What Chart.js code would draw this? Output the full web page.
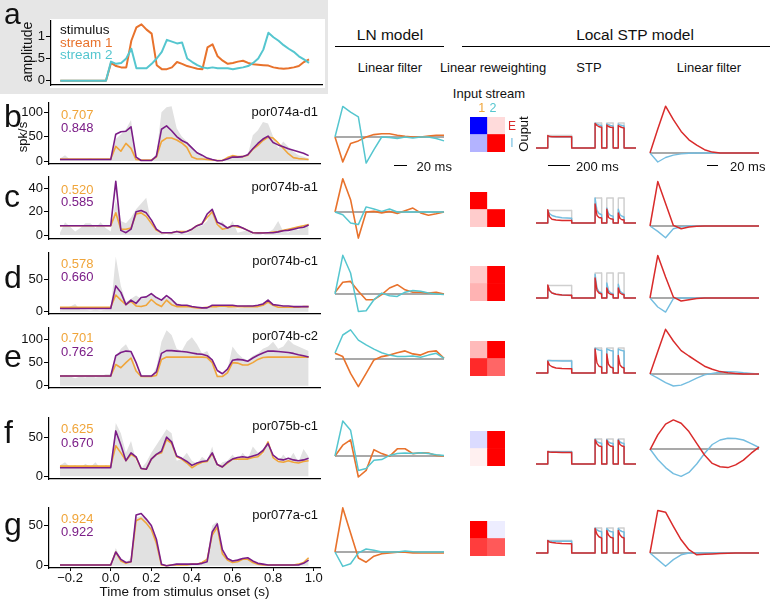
<!DOCTYPE html>
<html lang="en">
<head>
<meta charset="UTF-8">
<title>LN vs local STP model fits</title>
<script src="https://cdn.jsdelivr.net/npm/chart.js@4"></script>
<style>
  body { margin: 0; background: #fff; font-family: "Liberation Sans", Arial, sans-serif; }
  #fig { position: relative; width: 772px; height: 601px; overflow: hidden; }
  #fig canvas { position: absolute; }
  .t { position: absolute; white-space: nowrap; line-height: 1; }
  .box { position: absolute; }
</style>
</head>
<body>
<div id="fig"></div>
<script>
// ---- PSTH time bins (s) ----
const tBins = [-0.25,-0.225,-0.2,-0.175,-0.15,-0.125,-0.1,-0.075,-0.05,-0.025,0,0.025,0.05,0.075,0.1,0.125,0.15,0.175,0.2,0.225,0.25,0.275,0.3,0.325,0.35,0.375,0.4,0.425,0.45,0.475,0.5,0.525,0.55,0.575,0.6,0.625,0.65,0.675,0.7,0.725,0.75,0.775,0.8,0.825,0.85,0.875,0.9,0.925,0.95,0.975];
const xTicks = [-0.2, 0, 0.2, 0.4, 0.6, 0.8, 1.0];

// ---- panel a: stimulus envelopes ----
const stream1 = [0,0,0,0,0,0,0,0,0,0, 0.4,0.33,0.3,0.3,0.9,1.2,1.27,1.15,1.06,0.35, 0.26,0.26,0.3,0.42,0.38,0.33,0.3,0.27,0.26,0.75, 0.82,0.55,0.45,0.38,0.4,0.43,0.45,0.4,0.37,0.36, 0.35,0.34,0.3,0.28,0.27,0.28,0.3,0.33,0.42,0.48];
const stream2 = [0,0,0,0,0,0,0,0,0,0, 0.43,0.38,0.4,0.5,0.72,0.28,0.28,0.28,0.38,0.5, 0.65,0.92,0.88,0.84,0.86,0.5,0.42,0.35,0.3,0.28, 0.3,0.28,0.28,0.28,0.26,0.28,0.3,0.33,0.4,0.5, 0.7,1.08,0.98,0.9,0.8,0.72,0.65,0.55,0.48,0.4];

// ---- PSTHs: response (gray), LN prediction (gold), STP prediction (purple) ----
const resp_b = [5,12,3,2,2,3,5,2,2,3, 4,45,55,65,84,5,1,0,1,15, 100,110,112,67,50,40,29,19,12,5, 2,0,2,6,10,8,8,12,53,63, 80,77,50,26,40,29,19,12,9,5];
const lnPred_b = [4,4,4,4,4,4,4,4,4,4, 4,30,20,36,26,3,2,2,2,8, 40,47,47,43,37,28,8,4,4,3, 2,1,1,7,11,9,9,12,24,32, 42,49,47,37,26,15,7,5,4,3];
const stpPred_b = [3,3,3,3,3,3,3,3,3,3, 3,55,60,61,70,8,1,1,1,10, 65,72,62,50,42,37,27,17,12,6, 3,0.5,1,4,8,8,9,13,25,36, 45,51,38,33,29,25,22,19,16,11];

const resp_c = [2,11,7,3,6,10,10,6,11,6, 3,30,12,10,15,22,27,32,10,3, 1,0,2,1,2,1,4,7,8,12, 23,8,12,5,12,2,3,4,0,2, 0,2,5,12,3,2,6,4,7,10];
const lnPred_c = [8,8,8,8,8,8,8,8,8,8, 8,19,5,5,6,18,19,16,10,4, 2,2,2,3,3,3,5,8,10,15, 20,9,5,6,8,7,6,4,2,2, 2,2,2.5,3,4,5,6,7,8,9];
const stpPred_c = [8,8,8,8,8,8,8,8,8,8, 8,46,4,2,5,20,21,19,13,5, 2,2,2,3,2,3,5,8,9.5,18, 22,11,9,6,8,8,6,4,2,1.7, 1.7,2,2,2.7,3.6,4,5,6,6.6,8.6];

const resp_d = [3,5,8,12,3,3,2,3,2,3, 3,85,40,15,20,25,20,22,30,20, 18,22,20,14,10,8,6,6,4,5, 8,7,9,8,7,5,6,10,9,8, 12,20,10,9,6,7,6,8,7,7];
const lnPred_d = [7,7,7,7,7,7,7,7,7,7, 7,26,18,11,16,9,8,10,19,12, 8,18,11,8,8,8,7,6,6,7, 8,8,9,8,8,8,8,8,8,8, 10,15,10,7,7,7,7,7,8,8];
const stpPred_d = [5,5,5,5,5,5,5,5,5,5, 5,40,30,11,18,13,22,23,28,22, 18,25,19,11,10,10,8,7,6,6, 10,10,10,10,10,9,9,9,9,10, 12,18,11,10,9,9,8,8,8,8];

const resp_e = [20,23,20,16,20,18,22,18,20,25, 25,60,80,90,70,40,18,20,20,40, 95,120,110,80,75,95,105,90,70,75, 55,25,22,35,85,70,60,55,65,70, 80,85,95,80,85,100,90,85,80,75];
const lnPred_e = [21,21,21,21,21,21,21,21,21,21, 21,46,39,50,60,32,20,20,20,22, 57,62,62,62,62,62,62,62,62,61, 50,20,20,28,50,49,45,45,50,57, 61,62,62,62,62,62,62,62,62,62];
const stpPred_e = [21,21,21,21,21,21,21,21,21,21, 21,65,72,75,74,50,21,21,21,30, 70,76,76,75,74,73,71,69,68,65, 56,33,26,36,55,57,56,53,60,66, 71,75,75,74,73,72,70,67,65,62];

const resp_f = [14,18,12,14,10,16,12,18,10,14, 12,68,55,30,45,20,10,18,30,40, 50,60,55,20,22,30,20,16,25,20, 38,12,18,20,28,20,30,22,38,30, 28,45,25,18,28,20,30,18,35,25];
const lnPred_f = [13,13,13,13,13,13,13,13,13,13, 13,39,30,20,28,24,10,9,22,28, 30,47,42,25,22,17,11,15,18,19, 29,15,12,17,22,22,22,22,24,25, 31,44,24,19,18,20,18,17,19,20];
const stpPred_f = [11,11,11,11,11,11,11,11,11,11, 11,58,40,20,30,25,10,9,22,28, 32,50,44,26,23,19,14,17,19,20, 30,15,12,18,22,24,25,24,26,28, 33,42,27,22,21,23,21,20,21,23];

const resp_g = [0,0,0,0,0,0,0,0,0,0, 2,22,8,3,10,60,62,58,48,30, 2,1,2,3,2,2,3,2,4,10, 50,55,18,8,6,8,10,10,6,3, 2,1,1,1,1,1,1,2,4,8];
const lnPred_g = [1,1,1,1,1,1,1,1,1,1, 1,17,6,3,5,56,59,53,45,28, 1,0,1,1,1,1,2,2,4,8, 38,48,15,7,4,5,8,8,4,2, 1,1,1,1,1,1,1,2,4,10];
const stpPred_g = [1,1,1,1,1,1,1,1,1,1, 1,17,8,4,5,63,65,58,50,33, 2,0,1,2,2,2,2,2,3,5, 42,52,20,9,6,7,9,10,6,3, 2,1,1,1,1,1,1,1,3,7];

const cells = ['por074a-d1','por074b-a1','por074b-c1','por074b-c2','por075b-c1','por077a-c1'];
const corrLN = ['0.707','0.520','0.578','0.701','0.625','0.924'];
const corrSTP = ['0.848','0.585','0.660','0.762','0.670','0.922'];

// ---- filters (lag index) ----
const lag = [0,1,2,3,4,5,6,7,8,9,10,11,12,13,14];
const zeroLine = [0,0,0,0,0,0,0,0,0,0,0,0,0,0,0];

const lnFilt1_b = [0,-0.83,-0.22,-0.13,0,0.08,0.11,0.11,0.06,0.02,0,0,0.03,0.06,0.06];
const lnFilt2_b = [0,1.02,0.83,0.67,-0.87,-0.42,0,-0.02,-0.05,0,-0.03,0,0,-0.05,-0.13];
const lnFilt1_c = [0,1.11,0.41,-0.87,0,0.02,-0.03,0.02,-0.05,0.04,0.13,-0.03,-0.11,-0.06,0];
const lnFilt2_c = [0,-0.09,-0.37,-0.42,0.17,0.1,0.02,0.1,0,0,0,0,0,0,0];
const lnFilt1_d = [0.05,0.39,0.42,0.09,-0.19,-0.19,-0.02,0.2,0.31,0.14,0.06,0.06,0.03,0.06,0];
const lnFilt2_d = [0,1.29,0.7,-0.58,-0.56,-0.19,0.03,-0.06,-0.08,0.06,0.12,0.09,0.03,0,-0.02];
const lnFilt1_e = [0.19,0.08,-0.48,-0.92,-0.48,-0.03,0.08,0.13,0.21,0.27,0.17,0.13,0.24,0.27,0.02];
const lnFilt2_e = [0.2,0.8,0.97,0.63,0.47,0.33,0.21,0.13,0.08,0.08,0.1,0.06,0.13,0.19,0.02];
const lnFilt1_f = [0,0.36,0.54,-0.7,-0.48,0.21,0.08,-0.01,0.24,0.24,0.08,0.11,0.1,0.02,0];
const lnFilt2_f = [0,1.17,0.86,-0.48,-0.42,-0.14,-0.12,0.02,0.08,0.1,0.08,0.11,0.08,0.04,0.02];
const lnFilt1_g = [0,1.47,0.63,-0.2,-0.34,-0.14,-0.06,-0.03,-0.01,-0.01,-0.03,-0.03,-0.03,-0.03,-0.03];
const lnFilt2_g = [0,-0.48,-0.39,-0.03,0.1,0.06,0,0,0,0.03,0.01,0,0,0,0];

// ---- linear reweighting (rows E, I ; columns input stream 1, 2) ----
const inputStreams = ['1', '2'];
const wE_b = [-1, 0.14], wI_b = [-0.3, 1];
const wE_c = [1, 0],     wI_c = [0.2, 1];
const wE_d = [0.21, 1],  wI_d = [0.3, 1];
const wE_e = [0.27, 1],  wI_e = [0.84, 0.6];
const wE_f = [-0.14, 1], wI_f = [0.06, 1];
const wE_g = [1, -0.07], wI_g = [0.76, 0.65];

// ---- STP response to test input (ms) ----
const stpTime = [0,117,118,135,160,200,260,356,357,590,591,610,630,656,657,707,708,725,745,771,772,822,823,840,860,880,881,1000];
const stpInput = [0,0,0.5,0.5,0.5,0.5,0.5,0.5,0,0,1,1,1,1,0,0,1,1,1,1,0,0,1,1,1,1,0,0];
const stpE_b = [0,0,0.5,0.46,0.45,0.45,0.45,0.45,0,0,0.98,0.9,0.85,0.83,0,0,0.92,0.86,0.83,0.82,0,0,0.9,0.85,0.82,0.8,0,0];
const stpI_b = [0,0,0.48,0.46,0.45,0.44,0.44,0.44,0,0,1,0.95,0.92,0.9,0,0,0.97,0.93,0.9,0.88,0,0,0.96,0.92,0.9,0.88,0,0];
const stpE_c = [0,0,0.53,0.25,0.15,0.12,0.1,0.1,0,0,0.76,0.3,0.22,0.2,0,0,0.55,0.22,0.17,0.15,0,0,0.4,0.18,0.13,0.12,0,0];
const stpI_c = [0,0,0.5,0.38,0.3,0.25,0.21,0.19,0,0,1,0.5,0.38,0.33,0,0,0.6,0.38,0.3,0.27,0,0,0.55,0.33,0.27,0.24,0,0];
const stpE_d = [0,0,0.52,0.3,0.2,0.15,0.12,0.11,0,0,0.8,0.3,0.2,0.16,0,0,0.4,0.2,0.15,0.13,0,0,0.4,0.2,0.15,0.13,0,0];
const stpI_d = [0,0,0.5,0.3,0.2,0.15,0.12,0.1,0,0,0.95,0.4,0.25,0.2,0,0,0.6,0.3,0.2,0.17,0,0,0.55,0.28,0.2,0.16,0,0];
const stpE_e = [0,0,0.47,0.32,0.25,0.2,0.18,0.17,0,0,0.96,0.4,0.27,0.24,0,0,0.76,0.35,0.24,0.2,0,0,0.7,0.32,0.23,0.2,0,0];
const stpI_e = [0,0,0.5,0.5,0.49,0.49,0.48,0.48,0,0,1,0.95,0.92,0.9,0,0,0.97,0.93,0.9,0.88,0,0,0.96,0.92,0.9,0.88,0,0];
const stpE_f = [0,0,0.5,0.48,0.47,0.47,0.46,0.46,0,0,0.97,0.8,0.72,0.7,0,0,0.95,0.78,0.72,0.7,0,0,0.95,0.78,0.72,0.7,0,0];
const stpI_f = [0,0,0.5,0.49,0.49,0.49,0.49,0.49,0,0,1,0.9,0.85,0.83,0,0,0.98,0.88,0.84,0.82,0,0,0.98,0.88,0.84,0.82,0,0];
const stpE_g = [0,0,0.5,0.44,0.42,0.4,0.38,0.37,0,0,0.98,0.75,0.65,0.6,0,0,0.9,0.72,0.63,0.6,0,0,0.9,0.72,0.63,0.6,0,0];
const stpI_g = [0,0,0.5,0.48,0.47,0.47,0.47,0.47,0,0,1,0.92,0.88,0.85,0,0,0.98,0.9,0.86,0.84,0,0,0.98,0.9,0.86,0.84,0,0];

// ---- STP model output filters (E red, I blue) ----
const filtE_b = [0,0.8,1.56,1.11,0.72,0.44,0.26,0.11,0.03,0,0,0,0,0,0];
const filtI_b = [0,-0.3,-0.15,-0.07,-0.03,-0.01,0,0,0,0,0,0,0,0,0];
const filtE_c = [0,1.48,0.75,0.02,-0.09,-0.03,-0.01,0,0,0,0,0,0,0,0];
const filtI_c = [0,-0.18,-0.39,-0.09,-0.03,0,0,0,0,0,0,0,0,0,0];
const filtE_d = [0,1.42,0.7,0.03,-0.1,-0.06,-0.02,0,0,0,0,0,0,0,0];
const filtI_d = [0,-0.3,-0.47,-0.02,0,0,0,0,0,0,0,0,0,0,0];
const filtE_e = [0,0.75,1.49,1.1,0.78,0.6,0.43,0.26,0.16,0.08,0.04,0.02,0,0,0];
const filtI_e = [0,-0.14,-0.29,-0.4,-0.37,-0.26,-0.14,-0.03,0.02,0.06,0.08,0.07,0.04,0.02,0];
const filtE_f = [-0.03,0.47,0.83,0.97,0.86,0.58,0.19,-0.2,-0.48,-0.59,-0.62,-0.53,-0.37,-0.14,0.06];
const filtI_f = [0,-0.35,-0.62,-0.82,-0.91,-0.78,-0.5,-0.15,0.15,0.3,0.36,0.35,0.3,0.18,0.05];
const filtE_g = [0,1.42,1.36,0.89,0.44,0.11,-0.06,-0.04,-0.03,-0.02,-0.01,0,0,0,0];
const filtI_g = [0,-0.22,-0.44,-0.22,-0.06,0,0,0,0,0,0,0,0,0,0];

// ---- colours ----
const C = {
  gold: '#f0a53a', purple: '#7b1d87', fillGray: '#e1e1e1',
  orange: '#e8722c', cyan: '#55c6cf', red: '#d92b2b', blue: '#74bde0',
  input: '#cfcfcf', zero: '#8c8c8c', text: '#111'
};

Chart.defaults.font.family = '"Liberation Sans", Arial, sans-serif';
Chart.defaults.color = C.text;

const fig = document.getElementById('fig');
const base = {
  responsive: false, animation: false, events: [], devicePixelRatio: 1,
  plugins: { legend: { display: false }, tooltip: { enabled: false } }
};

function makeCanvas(x, y, w, h) {
  const cv = document.createElement('canvas');
  cv.width = w; cv.height = h;
  cv.style.left = x + 'px'; cv.style.top = y + 'px';
  fig.appendChild(cv);
  return cv;
}
function box(x, y, w, h, bg) {
  const d = document.createElement('div');
  d.className = 'box';
  Object.assign(d.style, { left: x + 'px', top: y + 'px', width: w + 'px', height: h + 'px', background: bg });
  fig.appendChild(d);
}
function label(str, x, y, o = {}) {
  const d = document.createElement('div');
  d.className = 't';
  d.textContent = str;
  d.style.left = x + 'px'; d.style.top = y + 'px';
  d.style.fontSize = (o.size || 13) + 'px';
  d.style.color = o.color || C.text;
  const tx = o.align === 'center' ? '-50%' : o.align === 'right' ? '-100%' : '0';
  d.style.transform = `translate(${tx}, -50%)` + (o.rotate ? ` rotate(${o.rotate}deg)` : '');
  fig.appendChild(d);
}
const pts = (xs, ys) => xs.map((x, i) => ({ x, y: ys[i] }));
function lineDs(xs, ys, color, width) {
  return { data: pts(xs, ys), borderColor: color, borderWidth: width, pointRadius: 0,
           tension: 0, fill: false, clip: false, borderJoinStyle: 'round' };
}
function bwr(w) {
  if (w >= 0) { const c = Math.round(255 * (1 - w)); return `rgb(255,${c},${c})`; }
  const c = Math.round(255 * (1 + w)); return `rgb(${c},${c},255)`;
}

function yAxis(min, max, vals, width, fmt) {
  return {
    type: 'linear', min, max,
    afterBuildTicks: s => { s.ticks = vals.map(v => ({ value: v })); },
    afterFit: s => { s.width = width; s.paddingTop = 0; s.paddingBottom = 0; },
    ticks: { font: { size: 13 }, color: C.text, padding: 1, callback: fmt || (v => String(v)) },
    grid: { display: true, drawOnChartArea: false, drawTicks: true, tickLength: 5, color: '#000' },
    border: { display: true, color: '#000', width: 1.2 }
  };
}
function xAxis(min, max, withLabels) {
  const ax = {
    type: 'linear', min, max,
    border: { display: true, color: '#000', width: 1.2 },
    afterFit: s => { s.height = withLabels ? 32 : 0; s.paddingLeft = 0; s.paddingRight = 0; }
  };
  if (!withLabels) {
    ax.ticks = { display: false };
    ax.grid = { display: false, drawTicks: false };
  } else {
    ax.afterBuildTicks = s => { s.ticks = xTicks.map(v => ({ value: v })); };
    ax.ticks = { display: true, padding: 0, maxRotation: 0, autoSkip: false, font: { size: 13 }, color: C.text,
                 callback: v => v.toFixed(1).replace('-', '\u2212') };
    ax.grid = { display: true, drawOnChartArea: false, drawTicks: true, tickLength: 3, color: '#000' };
    ax.title = { display: true, text: 'Time from stimulus onset (s)', font: { size: 13.5 }, color: C.text, padding: 0 };
  }
  return ax;
}

// ---------------- panel a ----------------
box(0, 0, 328, 94, '#e6e6e6');
box(50, 19, 275, 69, '#fff');
new Chart(makeCanvas(0, 17, 330, 70), {
  type: 'line',
  data: { datasets: [ lineDs(tBins, stream2, C.cyan, 2), lineDs(tBins, stream1, C.orange, 2) ] },
  options: { ...base, layout: { padding: { top: 4, bottom: 2, left: 0, right: 8 } },
    scales: { x: xAxis(-0.2956, 1.039, false),
              y: yAxis(-0.097, 1.345, [0, 0.5, 1], 51, v => (v === 0.5 ? '.5' : String(v))) } }
});
label('a', 4, 13.9, { size: 30 });
label('stimulus', 60, 30, { size: 13.5 });
label('stream 1', 60, 42.5, { size: 13.5, color: C.orange });
label('stream 2', 60, 55, { size: 13.5, color: C.cyan });
label('amplitude', 27, 52, { size: 14, align: 'center', rotate: -90 });

// ---------------- rows b-g ----------------
const rows = [
  { id: 'b', resp: resp_b, ln: lnPred_b, stp: stpPred_b, f1: lnFilt1_b, f2: lnFilt2_b, wE: wE_b, wI: wI_b, oE: stpE_b, oI: stpI_b, kE: filtE_b, kI: filtI_b },
  { id: 'c', resp: resp_c, ln: lnPred_c, stp: stpPred_c, f1: lnFilt1_c, f2: lnFilt2_c, wE: wE_c, wI: wI_c, oE: stpE_c, oI: stpI_c, kE: filtE_c, kI: filtI_c },
  { id: 'd', resp: resp_d, ln: lnPred_d, stp: stpPred_d, f1: lnFilt1_d, f2: lnFilt2_d, wE: wE_d, wI: wI_d, oE: stpE_d, oI: stpI_d, kE: filtE_d, kI: filtI_d },
  { id: 'e', resp: resp_e, ln: lnPred_e, stp: stpPred_e, f1: lnFilt1_e, f2: lnFilt2_e, wE: wE_e, wI: wI_e, oE: stpE_e, oI: stpI_e, kE: filtE_e, kI: filtI_e },
  { id: 'f', resp: resp_f, ln: lnPred_f, stp: stpPred_f, f1: lnFilt1_f, f2: lnFilt2_f, wE: wE_f, wI: wI_f, oE: stpE_f, oI: stpI_f, kE: filtE_f, kI: filtI_f },
  { id: 'g', resp: resp_g, ln: lnPred_g, stp: stpPred_g, f1: lnFilt1_g, f2: lnFilt2_g, wE: wE_g, wI: wI_g, oE: stpE_g, oI: stpI_g, kE: filtE_g, kI: filtI_g }
];
// pixel layout of each row
const rowLayout = [
  { top: 103.3, bottom: 164.5, ymin: -6.1, ymax: 118.8, ticks: [0, 50, 100], corrY: [114, 127.3], nameY: 111.3, letterY: 115.9, lnBase: 136.7, heatTop: 116.7, stpBase: 148.3, kBase: 153.3 },
  { top: 177.3, bottom: 239.7, ymin: -3.4, ymax: 49.7, ticks: [0, 20, 40], corrY: [188.7, 201.3], nameY: 186.3, letterY: 195.6, lnBase: 212.3, heatTop: 191.7, stpBase: 223.3, kBase: 225.7 },
  { top: 252.7, bottom: 314, ymin: -3.5, ymax: 91, ticks: [0, 50], corrY: [263.3, 275.7], nameY: 260, letterY: 276.9, lnBase: 294.3, heatTop: 266, stpBase: 297.7, kBase: 297.7 },
  { top: 328.3, bottom: 389, ymin: -4.9, ymax: 125, ticks: [0, 50, 100], corrY: [336.7, 350.7], nameY: 335, letterY: 356.2, lnBase: 359, heatTop: 340.7, stpBase: 372.7, kBase: 374 },
  { top: 418.3, bottom: 480, ymin: -3.4, ymax: 74.5, ticks: [0, 50], corrY: [428.3, 441.7], nameY: 425, letterY: 432.2, lnBase: 455.7, heatTop: 431, stpBase: 464, kBase: 449 },
  { top: 508.3, bottom: 569, ymin: -2.8, ymax: 71.8, ticks: [0, 50], corrY: [518.3, 531], nameY: 514.3, letterY: 523.9, lnBase: 552.3, heatTop: 521, stpBase: 553.3, kBase: 553.3 }
];

function smallLines(x, y, w, h, pad, xr, yr, datasets) {
  new Chart(makeCanvas(x, y, w, h), {
    type: 'line', data: { datasets },
    options: { ...base, layout: { padding: { left: pad, right: pad, top: 0, bottom: 0 } },
      scales: { x: { type: 'linear', display: false, min: xr[0], max: xr[1] },
                y: { type: 'linear', display: false, min: yr[0], max: yr[1] } } }
  });
}
function heat(x, y, wE, wI) {
  const cell = { borderWidth: 0, barPercentage: 1, categoryPercentage: 1 };
  new Chart(makeCanvas(x, y, 35, 35), {
    type: 'bar',
    data: { labels: inputStreams, datasets: [
      { label: 'I', data: wI.map(() => 1), backgroundColor: wI.map(bwr), ...cell },
      { label: 'E', data: wE.map(() => 1), backgroundColor: wE.map(bwr), ...cell } ] },
    options: { ...base, layout: { padding: 0 },
      scales: { x: { stacked: true, display: false }, y: { stacked: true, display: false, min: 0, max: 2 } } }
  });
}

rows.forEach((r, i) => {
  const L = rowLayout[i];
  const last = i === rows.length - 1;
  const top = L.top - 4;
  const h = last ? 601 - top : (L.bottom - L.top) + 7;
  new Chart(makeCanvas(0, top, 330, h), {
    type: 'line',
    data: { datasets: [
      lineDs(tBins, r.stp, C.purple, 1.6),
      lineDs(tBins, r.ln, C.gold, 1.6),
      { data: pts(tBins, r.resp), borderWidth: 0, pointRadius: 0, backgroundColor: C.fillGray, fill: 'origin', tension: 0 }
    ] },
    options: { ...base, layout: { padding: { top: 4, bottom: last ? 0 : 3, left: 0, right: 10 } },
      scales: { x: xAxis(-0.304, 1.031, last), y: yAxis(L.ymin, L.ymax, L.ticks, 49) } }
  });
  label(r.id, 4, L.letterY, { size: 32 });
  label(corrLN[i], 61, L.corrY[0], { color: C.gold });
  label(corrSTP[i], 61, L.corrY[1], { color: C.purple });
  label(cells[i], 318, L.nameY, { align: 'right' });

  // LN model linear filter
  smallLines(331, L.lnBase - 48, 117, 96, 4, [0, 14], [-1.6, 1.6], [
    lineDs(lag, r.f2, C.cyan, 1.5), lineDs(lag, r.f1, C.orange, 1.6), lineDs(lag, zeroLine, C.zero, 1.4)
  ]);
  // linear reweighting
  heat(470, L.heatTop, r.wE, r.wI);
  // STP
  smallLines(532, L.stpBase - 35, 108, 40, 4, [0, 1000], [-0.2, 1.4], [
    lineDs(stpTime, r.oE, C.red, 1.4), lineDs(stpTime, r.oI, C.blue, 1.4), lineDs(stpTime, stpInput, C.input, 1.4)
  ]);
  // STP model linear filter
  smallLines(646, L.kBase - 51, 117, 102, 4, [0, 14], [-1.7, 1.7], [
    lineDs(lag, r.kE, C.red, 1.5), lineDs(lag, r.kI, C.blue, 1.4), lineDs(lag, zeroLine, C.zero, 1.4)
  ]);
});
label('spk/s', 22, 137, { align: 'center', rotate: -90 });

// ---------------- headers ----------------
label('LN model', 390, 35, { size: 15.5, align: 'center' });
box(335, 46, 109, 1.2, '#000');
label('Local STP model', 635, 35, { size: 15.5, align: 'center' });
box(462, 46, 308, 1.2, '#000');
label('Linear filter', 390, 67, { align: 'center' });
label('Linear reweighting', 493, 67, { align: 'center' });
label('STP', 589, 67, { align: 'center' });
label('Linear filter', 709, 67, { align: 'center' });
label('Input stream', 489, 93, { align: 'center' });
label('1', 481.7, 108.3, { size: 12.5, align: 'center', color: C.gold });
label('2', 493, 108.3, { size: 12.5, align: 'center', color: C.cyan });
label('E', 512, 126, { size: 12, align: 'center', color: C.red });
label('I', 512, 143, { size: 12, align: 'center', color: C.blue });
label('Ouput', 523, 134, { align: 'center', rotate: -90 });

// scale bars
box(394, 165, 13, 1.3, '#000');
label('20 ms', 416.5, 166);
box(548, 165, 22, 1.3, '#000');
label('200 ms', 576, 166);
box(707, 165, 11, 1.3, '#000');
label('20 ms', 730, 166);
</script>
</body>
</html>
